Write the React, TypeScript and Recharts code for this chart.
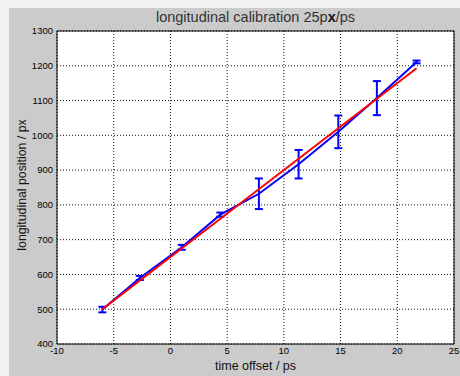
import React from "react";
import { ComposedChart, Line, XAxis, YAxis, CartesianGrid, ErrorBar, ReferenceArea } from "recharts";

// measured positions (ps), mean positions (px) and their spread (px)
const offsets = [-6.0, -2.7, 1.0, 4.4, 7.8, 11.3, 14.8, 18.2, 21.7];
const positions = [499, 590, 678, 772, 832, 917, 1010, 1107, 1211];
const spreads = [8, 6, 7, 6, 44, 41, 47, 49, 4];

// linear fit endpoints
const fitX = [-6.0, 21.7];
const fitY = [500, 1193];

const xTicks = [-10, -5, 0, 5, 10, 15, 20, 25];
const yTicks = [400, 500, 600, 700, 800, 900, 1000, 1100, 1200, 1300];

const measured = offsets.map((t, i) => ({ t, pos: positions[i], err: spreads[i] }));
const fit = fitX.map((t, i) => ({ t, pos: fitY[i] }));

const FONT = "'Liberation Sans', Arial, Helvetica, sans-serif";
const tickStyle = { fontSize: 9.5, fill: "#000", fontFamily: FONT };

export default function App() {
  return (
    <div style={{ position: "absolute", left: 0, top: 0, width: 460, height: 376, background: "#f1f1f1", overflow: "hidden", fontFamily: FONT }}>
      <div style={{ position: "absolute", left: 9, top: 8, width: 451, height: 368, background: "#cbcbcb" }} />
      <div style={{ position: "absolute", left: 57, width: 397, top: 9, textAlign: "center", fontSize: 14.5, color: "#333" }}>
        longitudinal calibration 25p<b style={{ color: "#111" }}>x</b>/ps
      </div>
      <div style={{ position: "absolute", left: 57, width: 397, top: 359, textAlign: "center", fontSize: 12.5, color: "#111" }}>
        time offset / ps
      </div>
      <div
        style={{
          position: "absolute",
          left: 22,
          top: 185,
          transform: "translate(-50%, -50%) rotate(-90deg)",
          whiteSpace: "nowrap",
          fontSize: 12.3,
          color: "#111",
        }}
      >
        longitudinal position / px
      </div>
      <div style={{ position: "absolute", left: 0, top: 0 }}>
        <ComposedChart width={460} height={376} margin={{ top: 31, right: 6, bottom: 12, left: 17 }}>
          <CartesianGrid fill="#fff" stroke="#111" strokeDasharray="1 2" horizontalValues={yTicks} verticalValues={xTicks} />
          <XAxis
            type="number"
            dataKey="t"
            domain={[-10, 25]}
            ticks={xTicks}
            height={20}
            axisLine={false}
            tickLine={false}
            tickSize={0}
            tickMargin={3}
            tick={tickStyle}
            allowDataOverflow
          />
          <YAxis
            type="number"
            dataKey="pos"
            domain={[400, 1300]}
            ticks={yTicks}
            width={40}
            axisLine={false}
            tickLine={false}
            tickSize={0}
            tickMargin={4}
            tick={tickStyle}
            allowDataOverflow
          />
          <ReferenceArea x1={-10} x2={25} y1={400} y2={1300} fill="none" stroke="#000" strokeWidth={1} />
          <Line data={measured} dataKey="pos" stroke="#0000ff" strokeWidth={2} dot={false} isAnimationActive={false}>
            <ErrorBar dataKey="err" direction="y" width={4} stroke="#0000ff" strokeWidth={2} isAnimationActive={false} />
          </Line>
          <Line data={fit} dataKey="pos" stroke="#ff0000" strokeWidth={2} dot={false} isAnimationActive={false} />
        </ComposedChart>
      </div>
    </div>
  );
}
